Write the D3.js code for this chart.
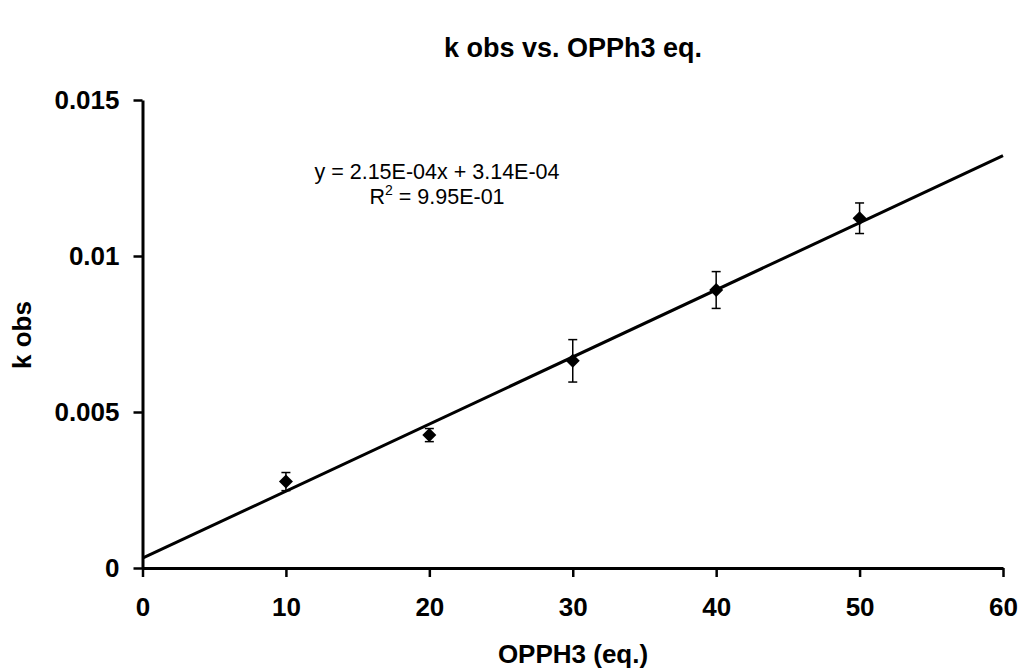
<!DOCTYPE html>
<html>
<head>
<meta charset="utf-8">
<script src="https://cdn.jsdelivr.net/npm/d3@7"></script>
<style>
body { margin: 0; background: #fff; }
svg { display: block; font-family: "Liberation Sans", Arial, sans-serif; }
</style>
</head>
<body>
<svg width="1021" height="672"></svg>
<script>
// data
var eqValues = [10, 20, 30, 40, 50];
var kObs = [0.00277, 0.00426, 0.00664, 0.00891, 0.01121];
var kErr = [0.00029, 0.00021, 0.00068, 0.00059, 0.00049];
var fitSlope = 2.15e-4,
    fitIntercept = 3.14e-4;
var xTicks = [0, 10, 20, 30, 40, 50, 60];
var yTicks = [0, 0.005, 0.01, 0.015];
var yTickLabels = ["0", "0.005", "0.01", "0.015"];

var svg = d3.select("svg");
var plotLeft = 142.5, plotRight = 1003, plotTop = 100, plotBottom = 568;

var x = d3.scaleLinear().domain([0, 60]).range([plotLeft, plotRight]);
var y = d3.scaleLinear().domain([0, 0.015]).range([plotBottom, plotTop]);

// axes
var xAxis = svg.append("g")
    .attr("transform", "translate(0," + plotBottom + ")")
    .call(d3.axisBottom(x).tickValues(xTicks).tickSize(9).tickSizeOuter(0).tickPadding(21));
var yAxis = svg.append("g")
    .attr("transform", "translate(" + plotLeft + ",0)")
    .call(d3.axisLeft(y).tickValues(yTicks).tickSize(9).tickSizeOuter(0).tickPadding(14)
        .tickFormat(function(d, i){ return yTickLabels[i]; }));

[xAxis, yAxis].forEach(function(g){
    g.select(".domain").attr("stroke", "#000").attr("stroke-width", 3);
    g.selectAll(".tick line").attr("stroke", "#000").attr("stroke-width", 2.5);
    g.selectAll(".tick text")
        .attr("fill", "#000")
        .style("font-family", "'Liberation Sans', Arial, sans-serif")
        .style("font-size", "26px")
        .style("font-weight", "bold");
});

// regression line
svg.append("line")
    .attr("x1", x(0))
    .attr("y1", y(fitIntercept))
    .attr("x2", x(60))
    .attr("y2", y(fitSlope * 60 + fitIntercept))
    .attr("stroke", "#000")
    .attr("stroke-width", 3);

// error bars
var errG = svg.append("g").attr("stroke", "#000").attr("stroke-width", 1.5);
eqValues.forEach(function(v, i){
    var cx = x(v);
    var yt = y(kObs[i] + kErr[i]), yb = y(kObs[i] - kErr[i]);
    errG.append("line").attr("x1", cx).attr("x2", cx).attr("y1", yt).attr("y2", yb);
    errG.append("line").attr("x1", cx - 4.5).attr("x2", cx + 4.5).attr("y1", yt).attr("y2", yt);
    errG.append("line").attr("x1", cx - 4.5).attr("x2", cx + 4.5).attr("y1", yb).attr("y2", yb);
});

// diamond markers
svg.append("g")
    .selectAll("path")
    .data(eqValues)
    .enter().append("path")
    .attr("d", "M0,-7L7,0L0,7L-7,0Z")
    .attr("transform", function(d, i){ return "translate(" + x(d) + "," + y(kObs[i]) + ")"; })
    .attr("fill", "#000");

// title
svg.append("text")
    .attr("x", 573).attr("y", 57)
    .attr("text-anchor", "middle")
    .style("font-size", "27px").style("font-weight", "bold")
    .text("k obs vs. OPPh3 eq.");

// axis titles
svg.append("text")
    .attr("x", 573).attr("y", 663)
    .attr("text-anchor", "middle")
    .style("font-size", "26px").style("font-weight", "bold")
    .text("OPPH3 (eq.)");
svg.append("text")
    .attr("transform", "translate(31,335) rotate(-90)")
    .attr("text-anchor", "middle")
    .style("font-size", "26px").style("font-weight", "bold")
    .text("k obs");

// fit equation
svg.append("text")
    .attr("x", 437).attr("y", 179)
    .attr("text-anchor", "middle")
    .style("font-size", "21.5px")
    .text("y = 2.15E-04x + 3.14E-04");
var r2 = svg.append("text")
    .attr("x", 437).attr("y", 204)
    .attr("text-anchor", "middle")
    .style("font-size", "21.5px");
r2.append("tspan").text("R");
r2.append("tspan").attr("dy", -9).style("font-size", "14px").text("2");
r2.append("tspan").attr("dy", 9).text(" = 9.95E-01");
</script>
</body>
</html>
